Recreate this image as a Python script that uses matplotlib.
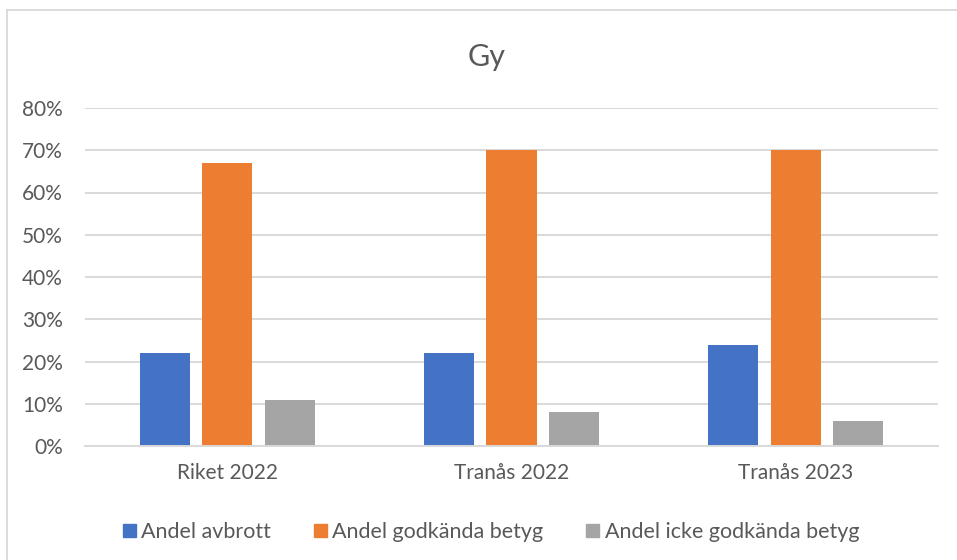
import matplotlib.pyplot as plt
import numpy as np
from matplotlib.lines import Line2D

categories = ["Riket 2022", "Tranås 2022", "Tranås 2023"]
series_names = ["Andel avbrott", "Andel godkända betyg", "Andel icke godkända betyg"]
avbrott = [0.22, 0.22, 0.24]
godkanda = [0.67, 0.70, 0.70]
icke_godkanda = [0.11, 0.08, 0.06]
yticks = [0, 0.1, 0.2, 0.3, 0.4, 0.5, 0.6, 0.7, 0.8]

colors = ["#4472C4", "#ED7D31", "#A5A5A5"]
text_color = "#595959"

plt.rcParams["font.family"] = ["Lato", "DejaVu Sans"]

fig = plt.figure(figsize=(9.57, 5.6), dpi=100)
ax = fig.add_axes([85 / 957, 114 / 560, 853 / 957, 338 / 560])

x = np.arange(len(categories))
width = 0.176
step = 0.22
for i, (vals, name) in enumerate(zip([avbrott, godkanda, icke_godkanda], series_names)):
    ax.bar(x + (i - 1) * step, vals, width=width, color=colors[i], label=name, zorder=2)

ax.set_xlim(-0.5, len(categories) - 0.5)
ax.set_ylim(0, 0.8)
ax.set_yticks(yticks)
ax.set_yticklabels([f"{int(round(v * 100))}%" for v in yticks])
ax.set_xticks(x)
ax.set_xticklabels(categories)
ax.tick_params(axis="both", length=0, colors=text_color, labelsize=15)
ax.tick_params(axis="x", pad=12)
ax.tick_params(axis="y", pad=16)

ax.grid(axis="y", color="#D9D9D9", linewidth=1.4, zorder=0)
for s in ["top", "right", "left"]:
    ax.spines[s].set_visible(False)
ax.spines["bottom"].set_color("#D9D9D9")
ax.spines["bottom"].set_linewidth(1.4)

fig.text(487 / 957, 1 - 57 / 560, "Gy", ha="center", va="center", fontsize=22, color=text_color)

handles = [plt.Rectangle((0, 0), 1, 1, color=c) for c in colors]
fig.legend(handles, series_names, loc="center", bbox_to_anchor=(491 / 957, 1 - 532 / 560),
           ncol=3, frameon=False, fontsize=15.5, handlelength=0.6, handleheight=0.6,
           handletextpad=0.25, columnspacing=2.0, labelcolor=text_color)

# outer chart border
fig.add_artist(Line2D([6.5 / 957, 6.5 / 957], [0, 1 - 10 / 560], transform=fig.transFigure,
                      color="#D9D9D9", linewidth=1.3))
fig.add_artist(Line2D([6.5 / 957, 1], [1 - 10 / 560, 1 - 10 / 560], transform=fig.transFigure,
                      color="#D9D9D9", linewidth=1.3))

fig.savefig("out.png", dpi=100)
